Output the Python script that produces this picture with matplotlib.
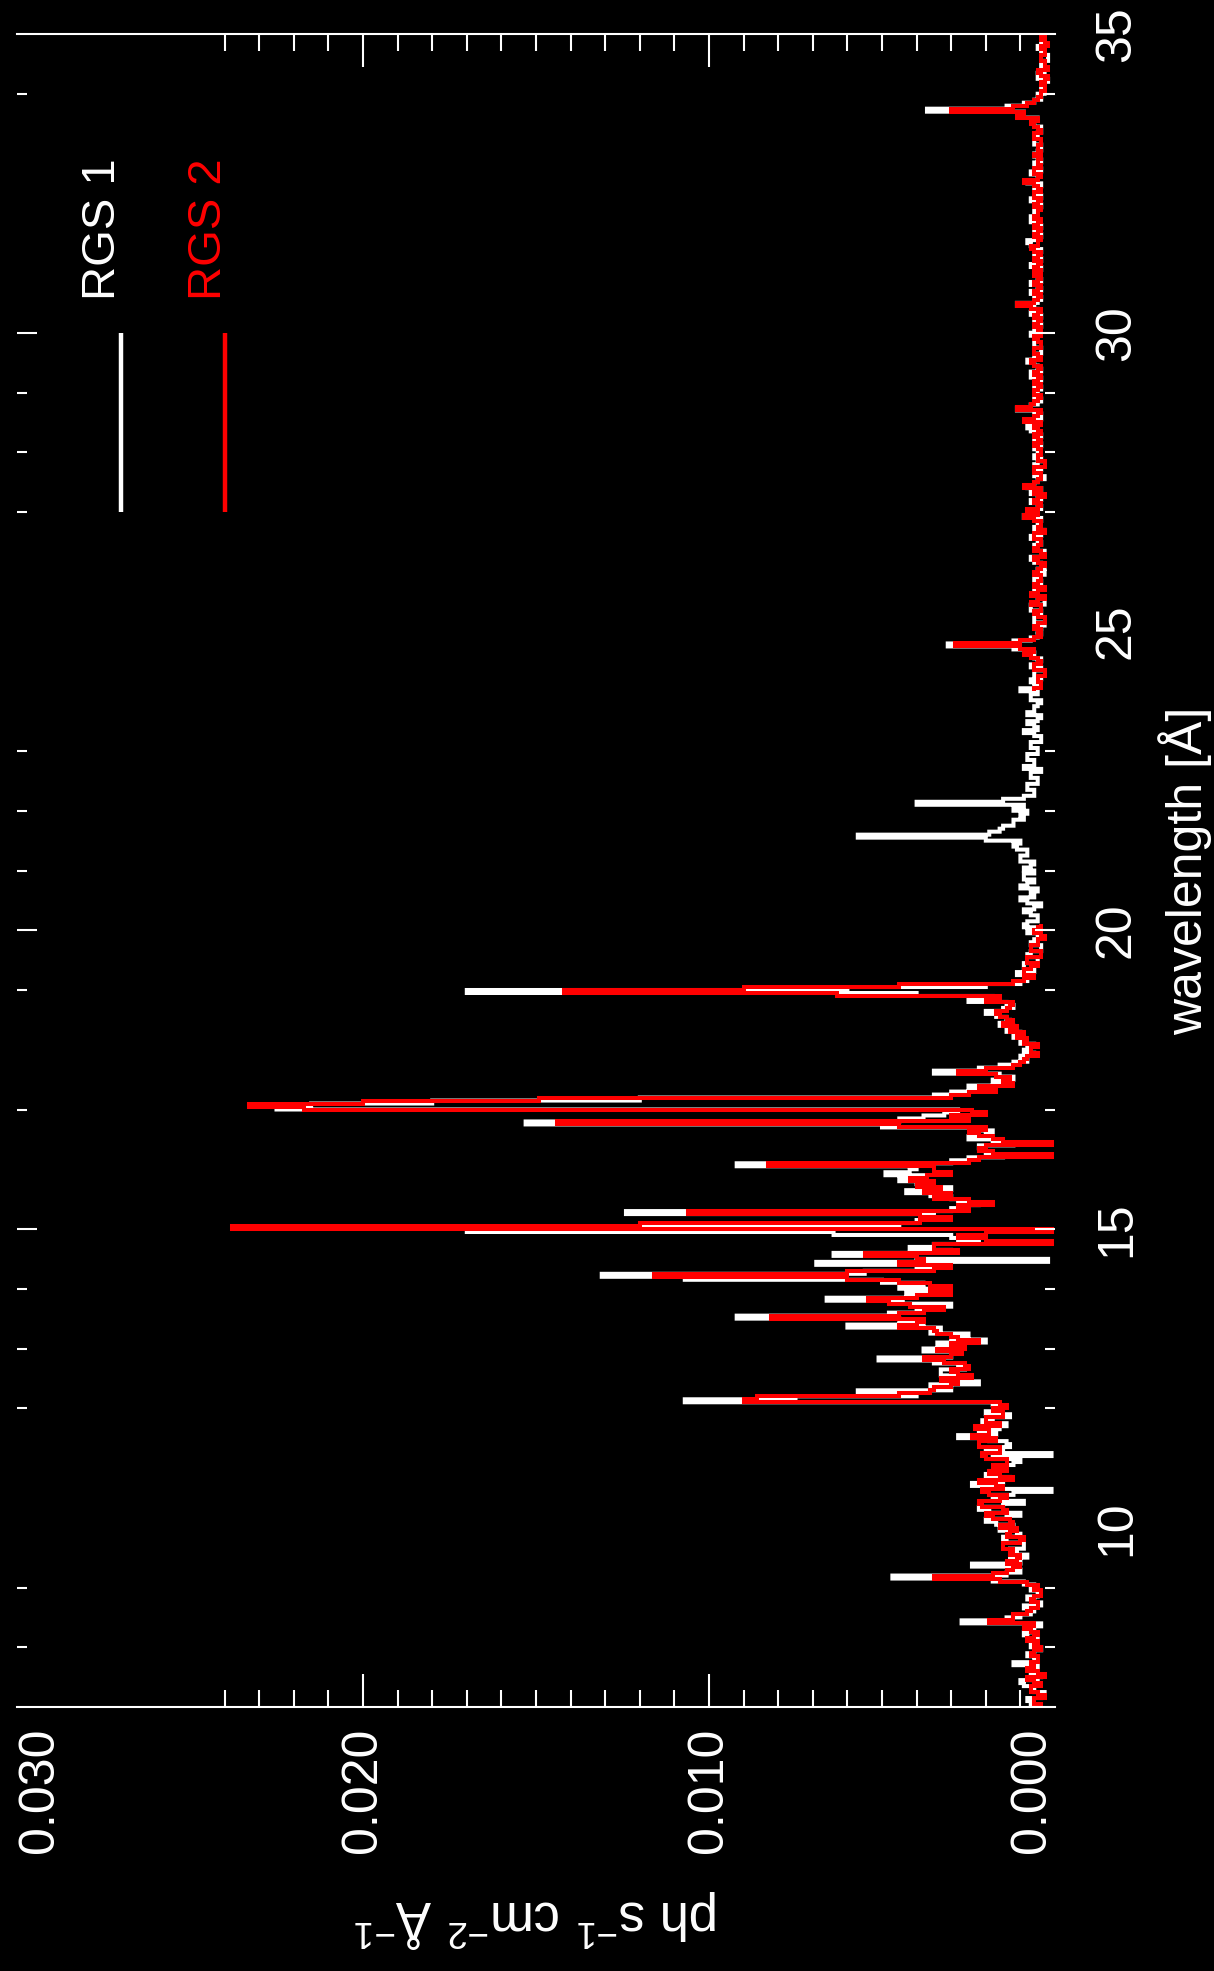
import numpy as np
import matplotlib
matplotlib.use("Agg")
import matplotlib.pyplot as plt

plt.rcParams['font.family'] = ['Liberation Sans', 'DejaVu Sans']
plt.rcParams['mathtext.fontset'] = 'custom'
plt.rcParams['mathtext.rm'] = 'Liberation Sans'
plt.rcParams['mathtext.it'] = 'Liberation Sans:italic'
plt.rcParams['mathtext.bf'] = 'Liberation Sans:bold'

# ---------------- data ----------------
# wavelength bins: 0.05 A wide, from 7.0 to 35.0 A (20 bins per row = 1 A)
WL_START = 7.0
WL_STEP = 0.05
FLUX_UNIT = 1e-4   # values below are in units of 1e-4 ph/s/cm2/A

rgs1 = [
    5, 7, 8, 4, 3, 6, 6, 9, 10, 5, 4, 7, 7, 5, 12, 6, 5, 8, 6, 4,                 # 7
    7, 5, 5, 8, 9, 6, 6, 4, 27, 14, 10, 7, 6, 9, 4, 6, 8, 5, 5, 7,                # 8
    6, 9, 18, 47, 14, 10, 12, 24, 10, 13, 8, 11, 13, 9, 9, 14, 15, 10, 11, 16,    # 9
    12, 17, 20, 14, 10, 19, 22, 15, 9, 16, 18, 12, 1, 17, 24, 15, 13, 20, 19, 14, # 10
    16, 12, 10, 18, 1, 15, 20, 13, 14, 19, 28, 17, 22, 16, 14, 21, 18, 13, 20, 16, # 11
    16, 18, 107, 75, 40, 57, 30, 36, 22, 28, 25, 33, 33, 26, 28, 35, 51, 30, 30, 38, # 12
    28, 34, 20, 30, 25, 36, 33, 60, 38, 45, 92, 48, 40, 33, 30, 44, 66, 40, 43, 35,  # 13
    45, 38, 50, 107, 131, 55, 40, 35, 69, 2, 40, 64, 30, 42, 35, 28, 22, 30, 64, 170, # 14
    123, 45, 40, 39, 35, 124, 30, 26, 22, 28, 30, 36, 43, 30, 35, 40, 45, 38, 49, 42, # 15
    40, 92, 30, 25, 15, 20, 20, 22, 12, 18, 25, 20, 18, 24, 50, 153, 45, 38, 32, 28,  # 16
    225, 215, 180, 120, 35, 30, 20, 25, 14, 18, 12, 16, 35, 22, 16, 12, 8, 10, 6, 9,  # 17
    8, 6, 10, 9, 12, 10, 14, 12, 16, 13, 14, 17, 20, 15, 12, 14, 25, 18, 40, 170,     # 18
    60, 20, 10, 8, 8, 11, 6, 9, 9, 5, 5, 8, 7, 4, 4, 7, 6, 5, 5, 8,                 # 19
    6, 9, 8, 5, 5, 7, 9, 6, 4, 8, 10, 6, 7, 5, 10, 8, 6, 9, 9, 6,                   # 20
    9, 7, 6, 10, 10, 8, 8, 11, 12, 10, 20, 57, 19, 16, 15, 12, 12, 9, 10, 8,        # 21
    12, 9, 40, 15, 9, 6, 6, 8, 8, 5, 5, 7, 7, 4, 9, 6, 6, 8, 8, 5,                  # 22
    5, 7, 7, 4, 4, 6, 9, 5, 6, 8, 5, 4, 8, 6, 6, 5, 4, 7, 7, 5,                     # 23
    10, 6, 5, 7, 4, 6, 6, 4, 7, 5, 4, 6, 6, 8, 12, 31, 12, 7, 5, 4,                 # 24
    5, 4, 3, 6, 6, 4, 4, 7, 7, 3, 3, 5, 5, 6, 6, 4, 4, 6, 5, 3,                     # 25
    5, 3, 4, 6, 7, 4, 3, 5, 6, 4, 5, 7, 4, 3, 6, 5, 5, 4, 9, 6,                     # 26
    6, 4, 5, 7, 4, 5, 7, 4, 8, 6, 5, 3, 6, 5, 4, 6, 5, 4, 6, 5,                     # 27
    5, 6, 4, 5, 6, 4, 5, 7, 8, 5, 6, 4, 4, 6, 11, 7, 5, 4, 6, 5,                    # 28
    5, 4, 6, 5, 4, 7, 7, 4, 5, 6, 8, 5, 6, 4, 4, 6, 6, 5, 5, 7,                     # 29
    6, 5, 4, 6, 5, 4, 7, 5, 6, 11, 5, 4, 6, 7, 4, 5, 7, 4, 5, 6,                    # 30
    5, 4, 7, 5, 4, 6, 6, 4, 5, 7, 8, 5, 4, 6, 6, 4, 5, 7, 7, 5,                     # 31
    6, 5, 4, 6, 7, 4, 5, 6, 6, 4, 8, 5, 5, 7, 4, 6, 6, 4, 5, 6,                     # 32
    5, 4, 4, 6, 6, 5, 5, 4, 4, 6, 6, 5, 10, 9, 37, 14, 9, 6, 4, 5,                  # 33
    3, 4, 4, 3, 2, 5, 5, 3, 3, 4, 4, 2, 2, 4, 3, 5, 4, 3, 3, 4,                     # 34
]

N = None  # RGS 2 has no data between ~20.1 and 24 A
rgs2 = [
    4, 6, 6, 3, 5, 7, 7, 4, 6, 8, 3, 5, 8, 6, 7, 5, 5, 7, 6, 4,                     # 7
    6, 5, 8, 6, 5, 7, 9, 6, 19, 12, 12, 8, 7, 5, 5, 7, 6, 4, 4, 6,                  # 8
    5, 8, 16, 35, 18, 14, 12, 10, 14, 11, 10, 13, 12, 15, 15, 10, 9, 14, 13, 11,    # 9
    16, 12, 13, 18, 20, 14, 15, 21, 22, 16, 14, 19, 21, 15, 17, 22, 12, 16, 19, 14, # 10
    18, 14, 14, 20, 21, 16, 16, 22, 22, 17, 24, 19, 19, 23, 16, 20, 20, 15, 15, 18, # 11
    14, 16, 90, 86, 45, 36, 35, 30, 28, 33, 24, 28, 30, 25, 26, 32, 38, 30, 27, 34, # 12
    26, 30, 22, 28, 30, 34, 35, 45, 40, 38, 82, 45, 38, 32, 42, 48, 54, 40, 30, 36, # 13
    30, 36, 45, 60, 116, 60, 35, 30, 45, 38, 40, 55, 28, 35, 35, 1, 20, 28, 20, 1,  # 14
    238, 120, 39, 30, 39, 106, 25, 28, 18, 25, 35, 30, 38, 33, 40, 35, 42, 37, 30, 35, # 15
    35, 83, 25, 22, 1, 18, 22, 20, 1, 15, 18, 22, 25, 20, 45, 144, 25, 30, 20, 24,  # 16
    217, 233, 200, 149, 30, 25, 17, 22, 12, 15, 13, 17, 28, 20, 12, 10, 9, 8, 5, 7, # 17
    7, 5, 9, 8, 11, 9, 13, 11, 15, 12, 14, 16, 17, 14, 13, 12, 20, 16, 63, 142,     # 18
    90, 45, 12, 9, 6, 9, 9, 7, 5, 8, 8, 4, 4, 7, 7, 5, 5, 3, 4, 6,                  # 19
    5, 4, N, N, N, N, N, N, N, N, N, N, N, N, N, N, N, N, N, N,                     # 20
    N, N, N, N, N, N, N, N, N, N, N, N, N, N, N, N, N, N, N, N,                     # 21
    N, N, N, N, N, N, N, N, N, N, N, N, N, N, N, N, N, N, N, N,                     # 22
    N, N, N, N, N, N, N, N, N, N, N, N, N, N, N, N, N, N, N, N,                     # 23
    6, 4, 4, 5, 5, 3, 3, 6, 6, 4, 5, 7, 9, 6, 10, 29, 10, 6, 4, 5,                  # 24
    4, 6, 5, 3, 3, 5, 6, 4, 4, 7, 5, 3, 7, 5, 3, 6, 5, 4, 4, 6,                     # 25
    5, 4, 3, 5, 6, 3, 4, 6, 5, 4, 4, 6, 6, 3, 5, 4, 4, 6, 9, 5,                     # 26
    8, 5, 4, 6, 5, 3, 6, 4, 9, 6, 5, 4, 4, 6, 6, 3, 3, 5, 5, 4,                     # 27
    4, 5, 6, 4, 5, 6, 4, 5, 6, 4, 9, 6, 5, 4, 11, 7, 6, 5, 4, 6,                    # 28
    6, 5, 4, 6, 5, 4, 6, 5, 4, 6, 7, 4, 5, 6, 6, 4, 4, 5, 6, 4,                     # 29
    5, 4, 6, 5, 4, 6, 5, 4, 7, 11, 6, 5, 4, 6, 5, 4, 6, 5, 4, 6,                    # 30
    4, 6, 5, 4, 6, 5, 4, 6, 7, 5, 5, 4, 6, 5, 4, 6, 5, 4, 6, 5,                     # 31
    5, 4, 6, 5, 4, 6, 6, 4, 5, 6, 9, 5, 4, 6, 6, 4, 5, 5, 4, 6,                     # 32
    4, 5, 5, 4, 4, 6, 6, 4, 5, 6, 7, 5, 11, 9, 30, 12, 8, 6, 5, 4,                  # 33
    4, 3, 3, 4, 3, 2, 4, 5, 2, 3, 3, 4, 4, 3, 3, 4, 2, 3, 4, 3,                     # 34
]

series_names = ['RGS 1', 'RGS 2']
series_colors = ['white', '#ff0000']

flux_major = [0.0, 0.010, 0.020, 0.030]
flux_labels = ['0.000', '0.010', '0.020', '0.030']
flux_minor = [0.001, 0.002, 0.003, 0.004, 0.005, 0.006, 0.007, 0.008, 0.009,
              0.011, 0.012, 0.013, 0.014, 0.015, 0.016, 0.017, 0.018, 0.019,
              0.021, 0.022, 0.023, 0.024]
wl_major = [10, 15, 20, 25, 30, 35]
wl_labels = ['10', '15', '20', '25', '30', '35']
wl_major_no_line = [10, 25, 35]
wl_minor = [8, 9, 12, 13, 14, 17, 19, 21, 22, 23, 27, 28, 29, 34]

# ---------------- figure ----------------
W, H = 1214, 1971
fig = plt.figure(figsize=(W / 100, H / 100), dpi=100, facecolor='black')
ax = fig.add_axes([17 / W, 1 - 1707 / H, (1055 - 17) / W, (1707 - 34) / H])
ax.set_facecolor('black')

edges = np.round(WL_START + WL_STEP * np.arange(len(rgs1) + 1), 3)
f1 = np.array(rgs1, dtype=float) * FLUX_UNIT
f2 = np.array([np.nan if v is None else v for v in rgs2], dtype=float) * FLUX_UNIT

for vals, col, name in zip([f1, f2], series_colors, series_names):
    ax.stairs(vals, edges, orientation='horizontal', baseline=None,
              color=col, lw=2.9, label=name, clip_on=False)

ax.set_xlim(0.030, 0.0)
ax.set_ylim(7.0, 35.0)

# spines
for s in ['left', 'right']:
    ax.spines[s].set_visible(False)
for s in ['top', 'bottom']:
    ax.spines[s].set_color('white')
    ax.spines[s].set_linewidth(1.5)

# flux axis (horizontal, drawn rotated)
ax.set_xticks(flux_major)
ax.set_xticklabels(flux_labels, rotation=90)
ax.set_xticks(flux_minor, minor=True)
ax.tick_params(axis='x', which='both', direction='in', top=True, bottom=True,
               colors='white', labelsize=36, pad=15, width=1.5)
ax.tick_params(axis='x', which='major', length=24)
ax.tick_params(axis='x', which='minor', length=12)
for t, v in zip(ax.xaxis.get_major_ticks(), flux_major):
    if v in (0.0, 0.030):
        t.tick1line.set_visible(False)
        t.tick2line.set_visible(False)
xl = ax.get_xticklabels()
xl[0].set_ha('right')
xl[-1].set_ha('left')

# wavelength axis (vertical)
ax.set_yticks(wl_major)
ax.set_yticklabels(wl_labels, rotation=90, va='center')
ax.set_yticks(wl_minor, minor=True)
ax.tick_params(axis='y', which='both', direction='in', left=True, right=True,
               labelleft=False, labelright=True, colors='white',
               labelsize=36, pad=28, width=1.5)
ax.tick_params(axis='y', which='major', length=14.4)
ax.tick_params(axis='y', which='minor', length=7.2)
for t, v in zip(ax.yaxis.get_major_ticks(), wl_major):
    if v in wl_major_no_line:
        t.tick1line.set_visible(False)
        t.tick2line.set_visible(False)

ax.set_xlabel('ph s$^{-1}$ cm$^{-2}$ Å$^{-1}$', rotation=180, color='white',
              fontsize=38, labelpad=25)
ax.yaxis.set_label_position('right')
ax.set_ylabel('wavelength [Å]', rotation=90, color='white', fontsize=36,
              labelpad=13)

# legend (drawn rotated, like the rest of the chart)
leg_x_line = [0.1002, 0.2004]
leg_x_text = [0.0829, 0.185]
for name, col, xl_, xt in zip(series_names, series_colors, leg_x_line, leg_x_text):
    ax.plot([xl_, xl_], [0.7143, 0.8214], transform=ax.transAxes, color=col,
            lw=3.2, solid_capstyle='butt')
    ax.text(xt, 0.841, name, transform=ax.transAxes, rotation=90, color=col,
            fontsize=34, ha='center', va='bottom')

fig.savefig('out.png', dpi=100, facecolor='black')
